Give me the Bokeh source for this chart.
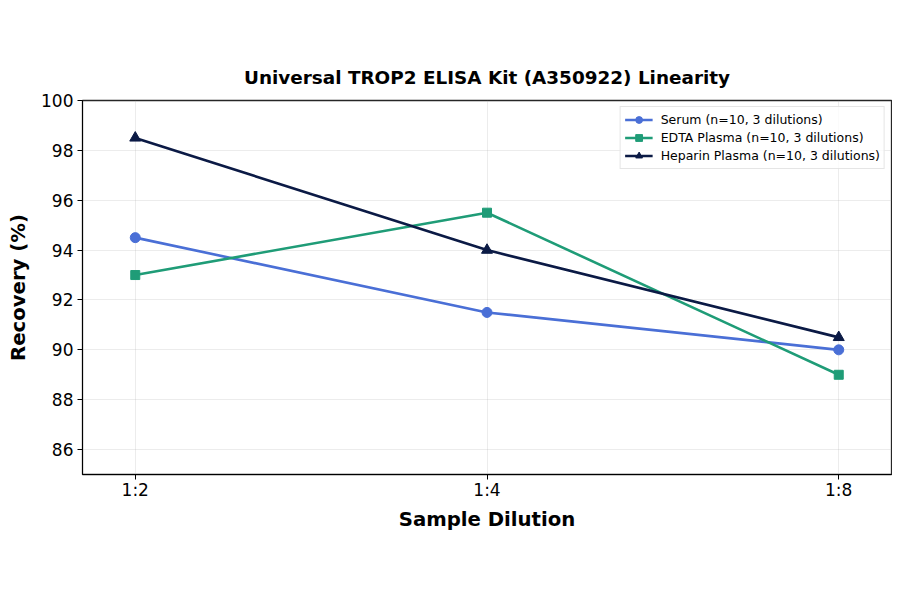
from bokeh.plotting import figure
from bokeh.models import Range1d, FixedTicker, Legend, LegendItem
from bokeh.embed import file_html
from bokeh.resources import INLINE

categories = ["1:2", "1:4", "1:8"]
serum = [94.5, 91.5, 90.0]
edta = [93.0, 95.5, 89.0]
heparin = [98.5, 94.0, 90.5]
y_ticks = [86, 88, 90, 92, 94, 96, 98, 100]

FONT = "DejaVu Sans"
xs = list(range(len(categories)))

p = figure(width=892, height=586, output_backend="svg", toolbar_location=None,
           x_range=Range1d(-0.15, 2.15), y_range=Range1d(85, 100),
           title="Universal TROP2 ELISA Kit (A350922) Linearity",
           min_border_left=82, min_border_right=1, min_border_top=100, min_border_bottom=112)

p.title.align = "center"
p.title.text_font = FONT
p.title.text_font_size = "18.4px"
p.title.text_font_style = "bold"
p.title.text_color = "black"
p.title.standoff = 26

p.outline_line_color = "black"
p.outline_line_width = 1.3
p.outline_line_alpha = 0.85

p.xaxis.ticker = FixedTicker(ticks=xs)
p.xaxis.major_label_overrides = {i: c for i, c in enumerate(categories)}
p.yaxis.ticker = FixedTicker(ticks=y_ticks)

for ax in (p.xaxis, p.yaxis):
    ax.major_label_text_font = FONT
    ax.major_label_text_font_size = "17px"
    ax.major_label_text_color = "black"
    ax.axis_label_text_font = FONT
    ax.axis_label_text_font_size = "19.7px"
    ax.axis_label_text_font_style = "bold"
    ax.axis_label_text_color = "black"
    ax.minor_tick_line_color = None
    ax.major_tick_in = 0
    ax.major_tick_out = 5
    ax.major_tick_line_color = "black"
    ax.axis_line_color = "black"

p.xaxis.axis_label = "Sample Dilution"
p.yaxis.axis_label = "Recovery (%)"
p.xaxis.major_label_standoff = 0
p.yaxis.major_label_standoff = 4
p.xaxis.axis_label_standoff = 5
p.yaxis.axis_label_standoff = 8

p.grid.grid_line_color = "#b0b0b0"
p.grid.grid_line_alpha = 0.3
p.grid.grid_line_width = 0.8

series = [
    ("Serum (n=10, 3 dilutions)", serum, "#4a6fd6", "circle", 10),
    ("EDTA Plasma (n=10, 3 dilutions)", edta, "#1f9c77", "square", 9),
    ("Heparin Plasma (n=10, 3 dilutions)", heparin, "#0b1a45", "triangle", 11),
]

items = []
for label, vals, color, marker, size in series:
    l = p.line(xs, vals, line_color=color, line_width=2.6)
    s = p.scatter(xs, vals, marker=marker, size=size, fill_color=color, line_color=color)
    items.append(LegendItem(label=label, renderers=[l, s]))

legend = Legend(items=items, location="top_right")
legend.label_text_font = FONT
legend.label_text_font_size = "12.5px"
legend.label_text_color = "black"
legend.label_height = 17
legend.glyph_height = 17
legend.glyph_width = 28
legend.label_standoff = 8
legend.spacing = 1
legend.padding = 4
legend.margin = 6
legend.border_line_color = "#cccccc"
legend.border_line_width = 1
legend.background_fill_alpha = 0.8
p.add_layout(legend)

open("out.html", "w").write(file_html(p, INLINE))
